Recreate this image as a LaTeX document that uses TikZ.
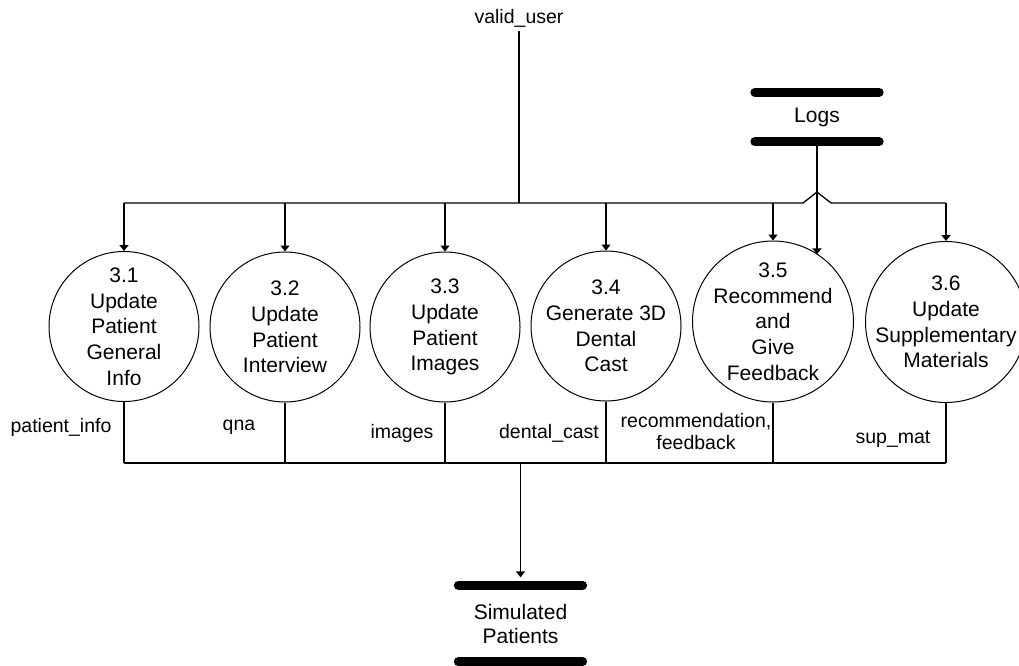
\documentclass[tikz,border=0pt]{standalone}
\usepackage{fontspec}
\setmainfont{Liberation Sans}
\usetikzlibrary{calc, arrows.meta}

\begin{document}
\begin{tikzpicture}[x=1pt, y=-1pt, line width=1.3pt,
	proc/.style={circle, draw, line width=1pt, inner sep=-14pt, align=center, font=\fontsize{21}{25.7}\selectfont},
	store/.style={minimum width=123pt, inner sep=0pt, align=center, font=\fontsize{21}{24}\selectfont},
	bar/.style={line width=9pt, line cap=round},
	flow/.style={-{Triangle[width=9pt,length=6pt]}},
	lbl/.style={align=center, font=\fontsize{19.5}{22}\selectfont}]
	\useasboundingbox (0,0) rectangle (1019,665);
	
	% Draw the processes
	\node[proc, minimum size=150pt] (p1) at (124,326.5) {3.1\\Update\\Patient\\General\\Info};
	\node[proc, minimum size=150pt] (p2) at (285,327) {3.2\\Update\\Patient\\Interview};
	\node[proc, minimum size=150pt] (p3) at (445,327) {3.3\\Update\\Patient\\Images};
	\node[proc, minimum size=150pt] (p4) at (606,326) {3.4\\Generate 3D\\Dental\\Cast};
	\node[proc, minimum size=161pt] (p5) at (773,321.5) {3.5\\Recommend\\and\\Give\\Feedback};
	\node[proc, minimum size=161pt] (p6) at (946,322) {3.6\\Update\\Supplementary\\Materials};
	
	% Draw the data stores
	\node[store, minimum height=48pt] (logs) at (817,117) {Logs};
	\draw[bar] (logs.north west) -- (logs.north east);
	\draw[bar] (logs.south west) -- (logs.south east);
	\node[store, minimum height=75pt] (simpat) at (520.5,623.5) {Simulated\\Patients};
	\draw[bar] (simpat.north west) -- (simpat.north east);
	\draw[bar] (simpat.south west) -- (simpat.south east);
	
	% Input from the top
	\node[lbl] (valid) at (519,18) {valid\_user};
	\coordinate (top) at (519,203);
	\coordinate (hop) at (logs |- top);
	\draw (valid) -- (top);
	\draw (p1 |- top) -- ($(hop)+(-14,0)$) -- ($(hop)+(0,-11)$) -- ($(hop)+(14,0)$) -- (p6 |- top);
	\foreach \n in {1,...,6}
		\draw[flow] (p\n |- top) -- (p\n);
	\draw[flow] (logs.south) -- (logs.south |- p5.56);
	
	% Output to the bottom
	\coordinate (bot) at (520.5,463);
	\foreach \n in {1,...,6}
		\draw (p\n) -- (p\n |- bot);
	\draw (p1 |- bot) -- (p6 |- bot);
	\draw[flow, shorten >=8pt] (bot) -- (simpat.north);
	
	% Label the flows
	\node[lbl] (l1) at (61,427) {patient\_info};
	\node[lbl] (l2) at (239,427) {qna};
	\node[lbl] (l3) at (402,433) {images};
	\node[lbl] (l4) at (549,433) {dental\_cast};
	\node[lbl] (l5) at (696,432) {recommendation,\\feedback};
	\node[lbl] (l6) at (893,439) {sup\_mat};
\end{tikzpicture}
\end{document}
